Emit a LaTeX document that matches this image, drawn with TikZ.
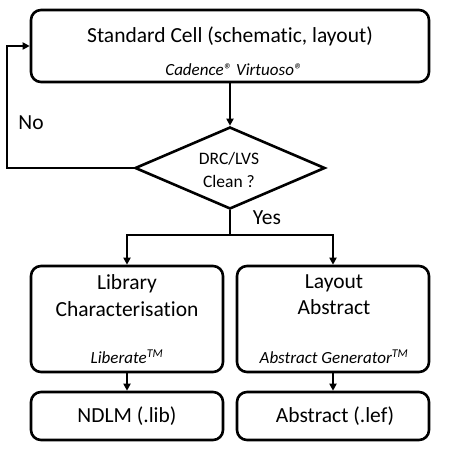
\documentclass[tikz,border=0pt]{standalone}
\usepackage{fontspec}
\setmainfont{Carlito}[Ligatures=NoCommon]
\usetikzlibrary{arrows.meta,shapes.geometric}
\begin{document}
\begin{tikzpicture}[x=1pt,y=-1pt,
  box/.style={draw,line width=2.6pt,rounded corners=10pt,inner sep=0pt},
  dia/.style={draw,line width=2.6pt,shape=diamond,inner sep=0pt,minimum width=190pt,minimum height=82pt},
  conn/.style={line width=2.6pt,-{Triangle[length=7pt,width=7pt]}},
  line/.style={line width=2.6pt},
  big/.style={font=\fontsize{21.5}{24}\selectfont,inner sep=0pt},
  small/.style={font=\fontsize{17}{19}\selectfont\itshape,inner sep=0pt},
  dtext/.style={font=\fontsize{17.5}{19}\selectfont,inner sep=0pt,align=center}]
\useasboundingbox (0,0) rectangle (457,457);
\node[box,minimum width=398pt,minimum height=72pt] (top) at (230,46) {};
\node[big] (toptxt) at (230,36) {Standard Cell (schematic, layout)};
\node[small] (topsub) at (234,70) {Cadence® Virtuoso®};
\node[dia] (dec) at (230,168) {};
\node[dtext] (dectxt1) at (229,159) {DRC/LVS};
\node[dtext] (dectxt2) at (229,181) {Clean ?};
\node[box,minimum width=192pt,minimum height=106pt] (lc) at (127,319) {};
\node[big] (lct1) at (127,284) {Library};
\node[big] (lct2) at (127,309) {Characterisation};
\node[small] (lct3) at (127,357) {Liberate\textsuperscript{TM}};
\node[box,minimum width=192pt,minimum height=106pt] (la) at (333,319) {};
\node[big] (lat1) at (334,283) {Layout};
\node[big] (lat2) at (334,307) {Abstract};
\node[small] (lat3) at (334,357) {Abstract Generator\textsuperscript{TM}};
\node[box,minimum width=192pt,minimum height=48pt] (nd) at (127,416) {};
\node[big] (ndt) at (127,416) {NDLM (.lib)};
\node[box,minimum width=192pt,minimum height=48pt] (ab) at (333,416) {};
\node[big] (abt) at (335,416) {Abstract (.lef)};
\node[big] (no) at (31,123) {No};
\node[big] (yes) at (267,218) {Yes};
\coordinate (nocorner) at (7,168);
\coordinate (split) at (230,235);
\draw[conn] (top.south) -- (dec.north);
\draw[conn] (dec.west) -- (nocorner) |- (top.west);
\draw[line] (dec.south) -- (split);
\draw[conn] (split) -| (lc.north);
\draw[conn] (split) -| (la.north);
\draw[conn] (lc.south) -- (nd.north);
\draw[conn] (la.south) -- (ab.north);
\end{tikzpicture}
\end{document}
